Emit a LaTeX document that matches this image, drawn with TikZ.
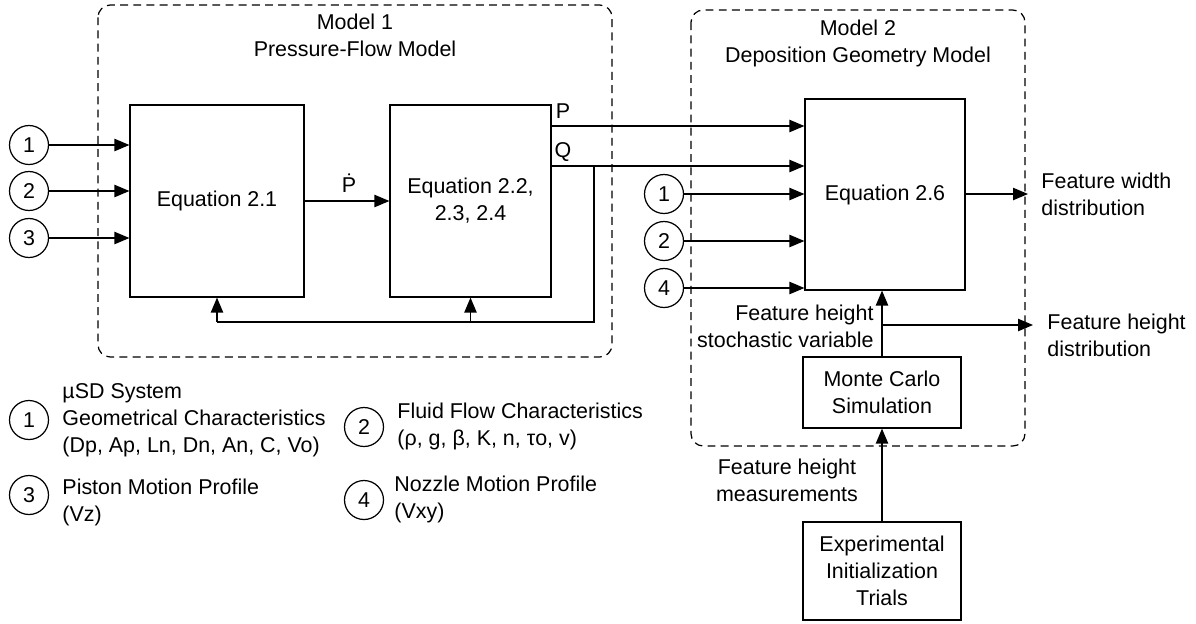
\documentclass[tikz,border=0pt]{standalone}
\usepackage{fontspec}
\setmainfont{Liberation Sans}
\usetikzlibrary{arrows.meta}
\begin{document}
\begin{tikzpicture}[x=0.02cm,y=-0.02cm,
    every node/.style={font=\fontsize{12.2pt}{15.4pt}\selectfont},
    eqbox/.style={draw,line width=0.7pt,inner sep=2pt,align=center},
    numcirc/.style={draw,circle,line width=0.7pt,minimum size=0.78cm,inner sep=0pt},
    modelbox/.style={line width=0.7pt,dash pattern=on 4.5pt off 3pt,rounded corners=7pt},
    flow/.style={line width=0.7pt,-{Triangle[length=8.5pt,width=7pt]}},
    line width=0.7pt]
  \useasboundingbox (0,0) rectangle (1196,623);
  % Model 1
  \draw[modelbox] (98,5) rectangle (612,357);
  \node[align=center] (m1) at (355,35) {Model 1\\Pressure-Flow Model};
  \node[eqbox,minimum width=3.48cm,minimum height=3.84cm] (eq1) at (217,201) {Equation 2.1};
  \node[eqbox,minimum width=3.22cm,minimum height=3.84cm] (eq2) at (470.5,201) {Equation 2.2,\\2.3, 2.4};
  \node[numcirc] (a1) at (29,145) {1};
  \node[numcirc] (a2) at (29,191) {2};
  \node[numcirc] (a3) at (29,238) {3};
  \draw[flow] (a1) -- (eq1.west |- a1);
  \draw[flow] (a2) -- (eq1.west |- a2);
  \draw[flow] (a3) -- (eq1.west |- a3);
  \draw[flow] (eq1) -- (eq2);
  \node (pdot) at (349,183) {\.{P}};
  % Model 2
  \draw[modelbox] (691,10) rectangle (1025,446);
  \node[align=center] (m2) at (858,43) {Model 2\\Deposition Geometry Model};
  \node[eqbox,minimum width=3.2cm,minimum height=3.82cm] (eq6) at (885,194.5) {Equation 2.6};
  \node[numcirc] (b1) at (664,194) {1};
  \node[numcirc] (b2) at (664,241) {2};
  \node[numcirc] (b4) at (664,288) {4};
  \draw[flow] (b1) -- (eq6.west |- b1);
  \draw[flow] (b2) -- (eq6.west |- b2);
  \draw[flow] (b4) -- (eq6.west |- b4);
  % P and Q
  \coordinate (pl) at (551,126);
  \coordinate (ql) at (551,166);
  \draw[flow] (eq2.east |- pl) -- (eq6.west |- pl);
  \draw[flow] (eq2.east |- ql) -- (eq6.west |- ql);
  \node (plab) at (563,111) {P};
  \node (qlab) at (563,152) {Q};
  % feedback
  \coordinate (qtap) at (594,166);
  \coordinate (fb) at (594,322);
  \draw (qtap) -- (fb) -- (eq1.south |- fb);
  \draw[flow] (eq1.south |- fb) -- (eq1.south);
  \draw[flow] (eq2.south |- fb) -- (eq2.south);
  % outputs
  \coordinate (wout) at (1028,194);
  \draw[flow] (eq6.east |- wout) -- (wout);
  \node[anchor=west,align=left] (wlab) at (1035,194) {Feature width\\distribution};
  \node[eqbox,minimum width=3.16cm,minimum height=1.42cm] (mc) at (882,392.5) {Monte Carlo\\Simulation};
  \node[eqbox,minimum width=3.16cm,minimum height=1.96cm] (exp) at (882,571) {Experimental\\Initialization\\Trials};
  \draw[flow] (mc.north) -- (mc.north |- eq6.south);
  \coordinate (hb) at (882,325);
  \coordinate (hout) at (1033,325);
  \draw[flow] (hb) -- (hout);
  \node[anchor=west,align=left] (hlab) at (1041,335) {Feature height\\distribution};
  \node[anchor=east,align=right] (svlab) at (880,326) {Feature height\\stochastic variable};
  \draw[flow] (exp.north) -- (mc.south);
  \node[align=center] (mslab) at (787,480) {Feature height\\measurements};
  % legend
  \node[numcirc] (l1) at (29,420) {1};
  \node[anchor=west,align=left] (t1) at (56,420) {µSD System\\Geometrical Characteristics\\(Dp, Ap, Ln, Dn, An, C, Vo)};
  \node[numcirc] (l2) at (364,427) {2};
  \node[anchor=west,align=left] (t2) at (391,426) {Fluid Flow Characteristics\\(ρ, g, β, K, n, τo, v)};
  \node[numcirc] (l3) at (29,495) {3};
  \node[anchor=west,align=left] (t3) at (56,502) {Piston Motion Profile\\(Vz)};
  \node[numcirc] (l4) at (364,500) {4};
  \node[anchor=west,align=left] (t4) at (388,499) {Nozzle Motion Profile\\(Vxy)};
\end{tikzpicture}
\end{document}
